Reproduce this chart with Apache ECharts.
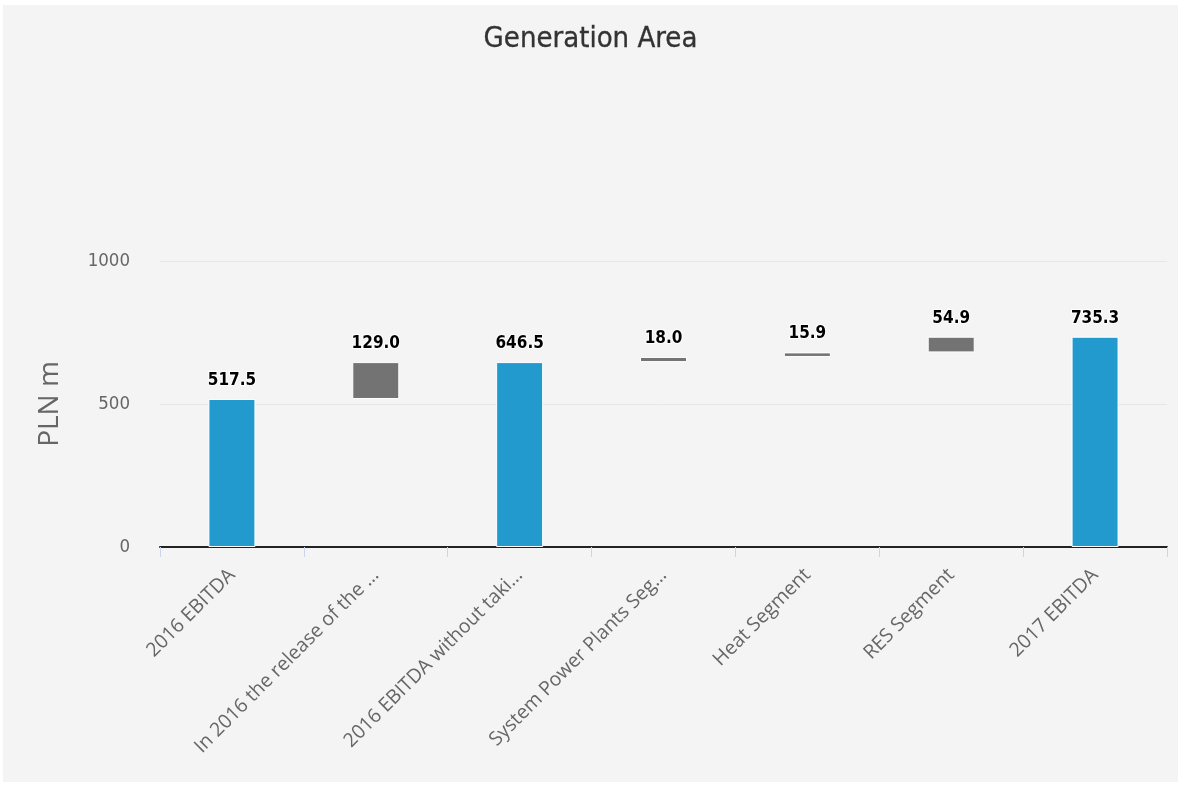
<!DOCTYPE html>
<html>
<head>
<meta charset="utf-8">
<script src="https://cdn.jsdelivr.net/npm/echarts@6/dist/echarts.min.js"></script>
<style>
html,body{margin:0;padding:0;background:#ffffff;}
#bg{position:absolute;left:3px;top:5px;width:1175px;height:777px;background:#f4f4f4;}
#chart{position:absolute;left:0;top:0;width:1181px;height:787px;}
</style>
</head>
<body>
<div id="bg"></div>
<div id="chart"></div>
<script>
const categories = ["2016 EBITDA", "In 2016 the release of the \u2026", "2016 EBITDA without taki\u2026", "System Power Plants Seg\u2026", "Heat Segment", "RES Segment", "2017 EBITDA"];
const changes = [517.5, 129.0, null, 18.0, 15.9, 54.9, null];
const isSum = [false, false, true, false, false, false, true];
const yTicks = [0, 500, 1000];

// build waterfall from the changes
const baseData = [], barData = [], labelVals = [];
let running = 0;
for (let i = 0; i < categories.length; i++) {
  if (isSum[i]) {
    baseData.push(0);
    barData.push({value: running, itemStyle: {color: '#229acd'}});
    labelVals.push(running);
  } else if (i === 0) {
    baseData.push(0);
    barData.push({value: changes[i], itemStyle: {color: '#229acd'}});
    running += changes[i];
    labelVals.push(changes[i]);
  } else {
    baseData.push(running);
    barData.push({value: changes[i], itemStyle: {color: '#737373'}});
    running += changes[i];
    labelVals.push(changes[i]);
  }
}

const condensed = '"DejaVu Sans Condensed", "Liberation Sans Narrow", sans-serif';
const chart = echarts.init(document.getElementById('chart'));
chart.setOption({
  backgroundColor: 'transparent',
  animation: false,
  title: {
    text: 'Generation Area',
    left: 'center',
    top: 20,
    textStyle: {fontFamily: condensed, fontSize: 29, fontWeight: 'normal', color: '#333333', textBorderColor: '#333333', textBorderWidth: 0.3}
  },
  grid: {left: 160, right: 14, top: 261, bottom: 240, containLabel: false},
  xAxis: {
    type: 'category',
    data: categories,
    axisLine: {lineStyle: {color: '#222222', width: 2}},
    axisTick: {show: true, length: 10, lineStyle: {color: '#ccd6eb', width: 1}},
    axisLabel: {rotate: 45, margin: 25, interval: 0, color: '#666666', fontSize: 19.5, fontFamily: '"Open Sans", sans-serif'}
  },
  yAxis: {
    type: 'value',
    min: 0, max: 1000, interval: 500,
    name: 'PLN m',
    nameLocation: 'middle',
    nameGap: 96,
    nameTextStyle: {fontSize: 28, color: '#666666', fontFamily: '"Open Sans", sans-serif'},
    axisLabel: {margin: 30, color: '#666666', fontSize: 18.5, fontFamily: condensed, formatter: v => yTicks.includes(v) ? String(v) : ''},
    splitLine: {lineStyle: {color: '#e6e6e6', width: 1}},
    axisLine: {show: false},
    axisTick: {show: false}
  },
  series: [
    {
      type: 'bar', stack: 'w', barWidth: 47,
      itemStyle: {color: 'transparent'},
      emphasis: {disabled: true},
      data: baseData
    },
    {
      type: 'bar', stack: 'w', barWidth: 47,
      itemStyle: {borderColor: '#ffffff', borderWidth: 1},
      label: {
        show: true, position: 'top', distance: 10,
        color: '#000000', fontSize: 17, fontWeight: 'bold',
        fontFamily: condensed,
        textBorderColor: '#ffffff', textBorderWidth: 2,
        formatter: p => labelVals[p.dataIndex].toFixed(1)
      },
      data: barData
    }
  ]
});
</script>
</body>
</html>
